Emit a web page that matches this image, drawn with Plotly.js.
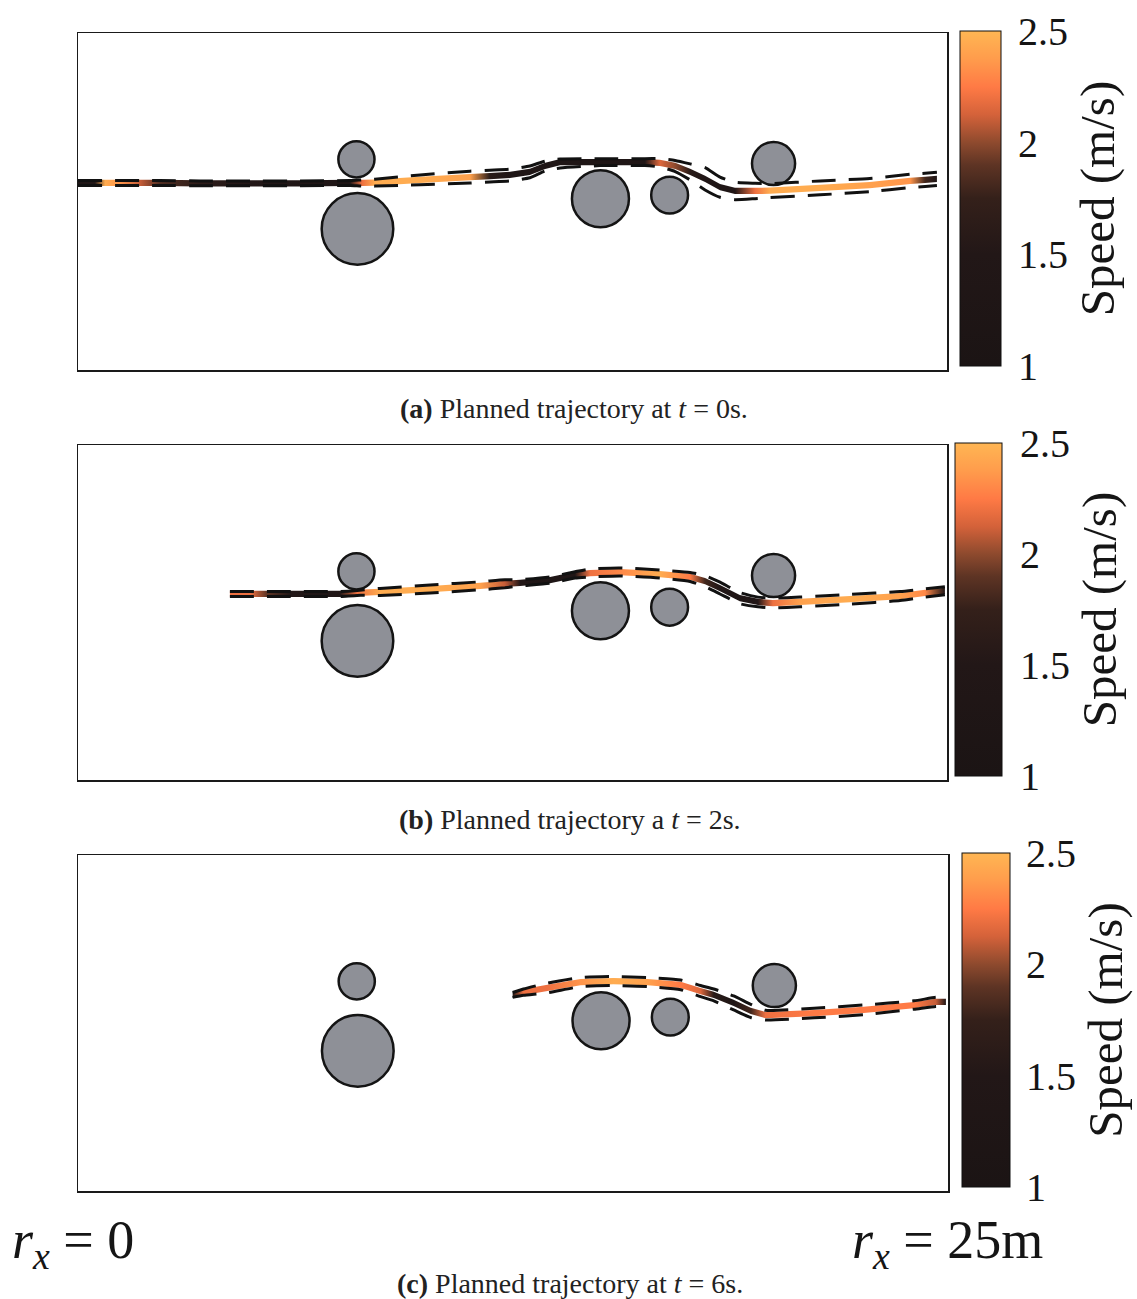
<!DOCTYPE html>
<html>
<head>
<meta charset="utf-8">
<script src="https://cdn.plot.ly/plotly-3.0.1.min.js"></script>
<style>
  html, body { margin: 0; padding: 0; background: #ffffff; }
  #chart { width: 1137px; height: 1299px; }
</style>
</head>
<body>
<div id="chart"></div>
<script>
// ---------------- DATA (metres, m/s) ----------------
// obstacles (shared by all three panels)
const obsX = [8.01, 8.04, 15.03, 17.02, 20.01];
const obsY = [0.68, -1.32, -0.45, -0.35, 0.56];
const obsR = [0.52, 1.03, 0.82, 0.53, 0.62];

// (a) t = 0 s
const xA  = [0, 0.49, 0.78, 1.21, 1.78, 2.36, 3.51, 4.95, 6.39, 7.83, 8.17, 8.54, 9.84, 11.28, 11.85, 12.43, 13.00, 13.44, 13.87, 15.02, 16.31, 16.74, 17.18, 17.61, 18.04, 18.47, 18.90, 19.48, 19.91, 21.35, 22.78, 23.94, 24.37, 24.71];
const yA  = [0, 0, 0, 0, 0, 0, -0.01, -0.01, -0.01, 0, 0, 0.01, 0.09, 0.17, 0.20, 0.23, 0.32, 0.49, 0.60, 0.60, 0.60, 0.58, 0.49, 0.32, 0.12, -0.12, -0.23, -0.23, -0.22, -0.14, -0.06, 0.06, 0.09, 0.12];
const vA  = [1.3, 1.5, 2.45, 2.35, 2.1, 1.85, 1.65, 1.5, 1.35, 1.3, 2.2, 2.45, 2.45, 2.4, 1.6, 1.3, 1.3, 1.3, 1.3, 1.3, 1.35, 2.15, 2.0, 1.6, 1.35, 1.3, 1.4, 2.2, 2.45, 2.45, 2.4, 2.35, 1.8, 1.3];
const upA = [0.07, 0.07, 0.07, 0.07, 0.07, 0.07, 0.06, 0.06, 0.06, 0.07, 0.09, 0.11, 0.23, 0.34, 0.37, 0.40, 0.49, 0.63, 0.69, 0.70, 0.70, 0.70, 0.65, 0.55, 0.44, 0.17, 0.02, -0.01, -0.02, 0.06, 0.13, 0.25, 0.28, 0.31];
const loA = [-0.07, -0.07, -0.07, -0.07, -0.07, -0.07, -0.08, -0.08, -0.08, -0.07, -0.09, -0.09, -0.05, 0.00, 0.03, 0.06, 0.15, 0.35, 0.43, 0.50, 0.50, 0.46, 0.33, 0.09, -0.20, -0.41, -0.48, -0.45, -0.42, -0.34, -0.25, -0.13, -0.10, -0.07];

// (b) t = 2 s
const xB  = [4.37, 4.95, 5.44, 6.10, 6.96, 7.54, 8.03, 8.69, 10.13, 11.57, 12.28, 12.72, 13.58, 14.30, 14.73, 15.59, 16.74, 17.61, 18.04, 18.47, 19.04, 19.56, 19.99, 20.77, 22.21, 23.65, 24.37, 24.94];
const yB  = [0.03, 0.03, 0.03, 0.03, 0.03, 0.03, 0.06, 0.09, 0.17, 0.26, 0.32, 0.35, 0.43, 0.58, 0.63, 0.66, 0.60, 0.52, 0.40, 0.20, -0.09, -0.20, -0.23, -0.20, -0.12, -0.03, 0.06, 0.12];
const vB  = [2.2, 2.2, 1.9, 1.5, 1.3, 1.35, 2.2, 2.45, 2.45, 2.4, 2.1, 1.5, 1.3, 1.35, 2.2, 2.3, 2.45, 2.25, 1.8, 1.35, 1.3, 1.5, 2.2, 2.4, 2.45, 2.4, 2.3, 1.4];
const upB = [0.10, 0.10, 0.10, 0.10, 0.10, 0.10, 0.13, 0.19, 0.29, 0.38, 0.44, 0.44, 0.52, 0.67, 0.75, 0.78, 0.72, 0.65, 0.56, 0.37, 0.07, -0.06, -0.09, -0.06, 0.02, 0.10, 0.18, 0.24];
const loB = [-0.04, -0.04, -0.04, -0.04, -0.04, -0.04, -0.01, -0.01, 0.06, 0.15, 0.21, 0.26, 0.34, 0.49, 0.52, 0.55, 0.49, 0.39, 0.24, 0.03, -0.25, -0.34, -0.37, -0.34, -0.26, -0.16, -0.06, 0.01];

// (c) t = 6 s
const xC  = [12.49, 12.80, 13.49, 14.44, 15.39, 16.37, 17.32, 17.89, 18.27, 18.84, 19.33, 19.76, 21.15, 22.58, 24.02, 24.65, 24.94];
const yC  = [0.29, 0.37, 0.49, 0.66, 0.69, 0.66, 0.58, 0.40, 0.29, 0.06, -0.17, -0.29, -0.23, -0.14, 0.00, 0.09, 0.09];
const vC  = [1.5, 2.2, 2.2, 2.35, 2.45, 2.4, 2.25, 2.15, 1.6, 1.3, 1.8, 2.2, 2.25, 2.25, 2.25, 2.1, 1.3];
const upC = [0.36, 0.46, 0.63, 0.79, 0.82, 0.79, 0.72, 0.56, 0.46, 0.26, 0.02, -0.15, -0.09, 0.00, 0.12, 0.22, 0.22];
const loC = [0.22, 0.28, 0.35, 0.53, 0.56, 0.53, 0.44, 0.24, 0.12, -0.14, -0.36, -0.43, -0.37, -0.28, -0.12, -0.04, -0.04];

const speedTicks = [1, 1.5, 2, 2.5];
const speedTickText = ['1', '1.5', '2', '2.5'];
const captions = [
  '<b>(a)</b> Planned trajectory at <i>t</i> = 0s.',
  '<b>(b)</b> Planned trajectory a <i>t</i> = 2s.',
  '<b>(c)</b> Planned trajectory at <i>t</i> = 6s.'
];
const leftLabel = '<i>r</i><sub><i>x</i></sub> = 0';
const rightLabel = '<i>r</i><sub><i>x</i></sub> = 25m';

// ---------------- STYLE ----------------
const VMIN = 1, VMAX = 2.5;
const speedScale = [
  [0, '#1b1414'], [0.333, '#221717'], [0.5, '#34201a'], [0.6, '#5e3424'],
  [0.667, '#8e4a2e'], [0.75, '#d4623a'], [0.833, '#ff7a45'], [0.917, '#ff9c4c'], [1, '#ffb653']
];
const SERIF = "'Liberation Serif', 'DejaVu Serif', serif";

function hexToRgb(h) {
  return [parseInt(h.slice(1, 3), 16), parseInt(h.slice(3, 5), 16), parseInt(h.slice(5, 7), 16)];
}
function colorFor(v) {
  let f = (v - VMIN) / (VMAX - VMIN);
  f = Math.max(0, Math.min(1, f));
  for (let i = 1; i < speedScale.length; i++) {
    if (f <= speedScale[i][0]) {
      const a = speedScale[i - 1], b = speedScale[i];
      const t = (f - a[0]) / (b[0] - a[0]);
      const ca = hexToRgb(a[1]), cb = hexToRgb(b[1]);
      const c = ca.map((x, k) => Math.round(x + (cb[k] - x) * t));
      return 'rgb(' + c.join(',') + ')';
    }
  }
  return speedScale[speedScale.length - 1][1];
}

const panels = [
  { xs: xA, ys: yA, vs: vA, up: upA, lo: loA, xa: 'x',  ya: 'y',  ca: 'coloraxis'  },
  { xs: xB, ys: yB, vs: vB, up: upB, lo: loB, xa: 'x2', ya: 'y2', ca: 'coloraxis2' },
  { xs: xC, ys: yC, vs: vC, up: upC, lo: loC, xa: 'x3', ya: 'y3', ca: 'coloraxis3' }
];

const HALF = 0.09; // half thickness of the drawn trajectory ribbon (m) – visual only
const traces = [];
panels.forEach(p => {
  const n = p.xs.length;
  const x0 = p.xs[0], x1 = p.xs[n - 1];
  const rx = p.xs.concat(p.xs.slice().reverse());
  const ry = p.ys.map(y => y + HALF).concat(p.ys.slice().reverse().map(y => y - HALF));
  const grad = p.xs.map((x, i) => [i === 0 ? 0 : (i === n - 1 ? 1 : (x - x0) / (x1 - x0)), colorFor(p.vs[i])]);
  traces.push({
    type: 'scatter', x: rx, y: ry, xaxis: p.xa, yaxis: p.ya,
    mode: 'none', fill: 'toself',
    fillgradient: { type: 'horizontal', colorscale: grad, start: x0, stop: x1 },
    hoverinfo: 'skip', showlegend: false
  });
  [p.up, p.lo].forEach(arr => {
    traces.push({
      type: 'scatter', x: p.xs, y: arr, xaxis: p.xa, yaxis: p.ya, mode: 'lines',
      line: { color: '#111111', width: 3, dash: '24px,13px', shape: 'spline', smoothing: 0.5 },
      hoverinfo: 'skip', showlegend: false
    });
  });
  traces.push({
    type: 'scatter', x: p.xs, y: p.ys, xaxis: p.xa, yaxis: p.ya, mode: 'markers',
    marker: { color: p.vs, coloraxis: p.ca, size: 2, opacity: 0 },
    hoverinfo: 'skip', showlegend: false
  });
});

// obstacles as shapes on each panel
const shapes = [];
panels.forEach(p => {
  obsX.forEach((cx, i) => {
    shapes.push({
      type: 'circle', xref: p.xa, yref: p.ya, layer: 'below',
      x0: cx - obsR[i], x1: cx + obsR[i], y0: obsY[i] - obsR[i], y1: obsY[i] + obsR[i],
      fillcolor: '#8e9097', line: { color: '#141414', width: 2.5 }
    });
  });
});

function xAxis(anchor, dom) {
  return { domain: dom, range: [0, 25], anchor: anchor, showline: true, mirror: true,
    linecolor: '#1a1a1a', linewidth: 1.5, showgrid: false, zeroline: false,
    showticklabels: false, ticks: '', fixedrange: true };
}
function yAxis(anchor, dom, rng) {
  return { domain: dom, range: rng, anchor: anchor, showline: true, mirror: true,
    linecolor: '#1a1a1a', linewidth: 1.5, showgrid: false, zeroline: false,
    showticklabels: false, ticks: '', fixedrange: true };
}
function cAxis(xPx, topPx, botPx, thick, tl) {
  return {
    colorscale: speedScale, cmin: VMIN, cmax: VMAX,
    colorbar: {
      x: xPx / 1137, xanchor: 'left', xpad: 0, ypad: 0,
      y: 1 - (topPx + botPx) / 2 / 1299, yanchor: 'middle',
      len: botPx - topPx, lenmode: 'pixels', thickness: thick, thicknessmode: 'pixels',
      outlinewidth: 1, outlinecolor: '#111111',
      tickvals: speedTicks, ticktext: speedTickText,
      ticks: 'outside', ticklen: tl, tickcolor: 'rgba(0,0,0,0)',
      tickfont: { family: SERIF, size: 40, color: '#151515' },
      title: { text: 'Speed (m/s)', side: 'right', font: { family: SERIF, size: 49, color: '#151515' } }
    }
  };
}

const capFont = { family: SERIF, size: 28, color: '#222' };
const bigFont = { family: SERIF, size: 54, color: '#151515' };
const layout = {
  width: 1137, height: 1299,
  margin: { l: 0, r: 0, t: 0, b: 0 },
  paper_bgcolor: '#ffffff', plot_bgcolor: 'rgba(0,0,0,0)',
  showlegend: false,
  xaxis:  xAxis('y',  [78 / 1137, 947 / 1137]),
  yaxis:  yAxis('x',  [1 - 370 / 1299, 1 - 33 / 1299], [-5.38, 4.315]),
  xaxis2: xAxis('y2', [78 / 1137, 947 / 1137]),
  yaxis2: yAxis('x2', [1 - 780 / 1299, 1 - 445 / 1299], [-5.32, 4.315]),
  xaxis3: xAxis('y3', [78 / 1137, 948 / 1137]),
  yaxis3: yAxis('x3', [1 - 1191 / 1299, 1 - 855 / 1299], [-5.35, 4.315]),
  coloraxis:  cAxis(960, 31, 366, 41, 9),
  coloraxis2: cAxis(955, 443, 776, 47, 10),
  coloraxis3: cAxis(962, 853, 1187, 48, 8),
  shapes: shapes,
  annotations: [
    { text: captions[0], xref: 'paper', yref: 'paper', x: 574 / 1137, y: 1 - 408 / 1299, xanchor: 'center', yanchor: 'middle', showarrow: false, font: capFont },
    { text: captions[1], xref: 'paper', yref: 'paper', x: 570 / 1137, y: 1 - 819 / 1299, xanchor: 'center', yanchor: 'middle', showarrow: false, font: capFont },
    { text: captions[2], xref: 'paper', yref: 'paper', x: 570 / 1137, y: 1 - 1283 / 1299, xanchor: 'center', yanchor: 'middle', showarrow: false, font: capFont },
    { text: leftLabel, xref: 'paper', yref: 'paper', x: 10 / 1137, y: 1 - 1243 / 1299, xanchor: 'left', yanchor: 'middle', showarrow: false, font: bigFont },
    { text: rightLabel, xref: 'paper', yref: 'paper', x: 850 / 1137, y: 1 - 1243 / 1299, xanchor: 'left', yanchor: 'middle', showarrow: false, font: bigFont }
  ]
};

Plotly.newPlot('chart', traces, layout, { staticPlot: true, displayModeBar: false });
</script>
</body>
</html>
